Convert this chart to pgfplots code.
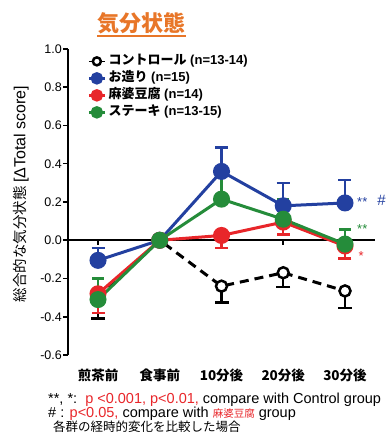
\documentclass[border=0pt]{standalone}
\usepackage{pgfplots}
\pgfplotsset{compat=1.18}
\usepackage{fontspec}
\setmainfont{Liberation Sans}
\newfontfamily\cjk{Noto Sans CJK JP}
\definecolor{cblue}{RGB}{35,64,160}
\definecolor{cred}{RGB}{232,38,42}
\definecolor{cgreen}{RGB}{37,140,58}
\definecolor{corange}{RGB}{232,118,40}
\begin{document}
\begin{tikzpicture}[x=1pt,y=1pt]
\useasboundingbox (0,0) rectangle (386,437);
% title
\node at (141,414) {\cjk\bfseries\fontsize{22}{22}\selectfont\color{corange}気分状態};
\draw[corange, line width=1.5pt] (97,401) -- (186,401);
% y label
\node[rotate=90] at (21,243) {\cjk\fontsize{14.5}{15}\selectfont 総合的な気分状態 {\normalfont\fontsize{16}{16}\selectfont [ΔTotal score]}};
\begin{axis}[
  at={(68pt,82pt)}, anchor=south west,
  scale only axis, width=307pt, height=306pt,
  xmin=-0.486, xmax=4.486, ymin=-0.6, ymax=1.0,
  clip=false,
  axis y line*=left, axis x line*=bottom,
  x axis line style={draw=none},
  y axis line style={line width=2.5pt},
  xtick={0,1,2,3,4},
  xticklabels={煎茶前,食事前,10分後,20分後,30分後},
  xtick style={draw=none},
  xticklabel style={font=\cjk\bfseries\fontsize{13.5}{14}\selectfont, yshift=-5pt},
  ytick={-0.6,-0.4,-0.2,0,0.2,0.4,0.6,0.8,1.0},
  ytick style={line width=1.5pt, black},
  tick align=outside, major tick length=5pt,
  yticklabel style={font=\fontsize{12.5}{13}\selectfont, inner sep=1pt},
  /pgf/number format/.cd, fixed, fixed zerofill, precision=1, assume math mode=true,
  /pgfplots/.cd,
  legend image code/.code={\draw[mark repeat=2,mark phase=2,#1] plot coordinates {(0pt,0pt) (8pt,0pt) (16pt,0pt)};},
  legend style={at={(axis cs:-0.22,0.99)}, anchor=north west, draw=none, fill=none,
    font=\fontsize{13}{15}\selectfont,
    nodes={text height=9pt, text depth=2.5pt, inner sep=2.5pt}, row sep=0.5pt},
  legend cell align=left,
]
% zero line
\draw[line width=2.5pt] (axis cs:-0.486,0) -- (axis cs:4.486,0);
\pgfplotsinvokeforeach{0,1,2,3,4}{\draw[line width=1.5pt] (axis cs:#1,0) -- ([yshift=-5pt]axis cs:#1,0);}

\addlegendimage{draw=none, mark=*, mark size=4pt, mark options={draw=black, line width=2.5pt, fill=white}}
\addlegendentry{{\cjk\bfseries コントロール} {\bfseries (n=13-14)}}
\addlegendimage{cblue, line width=2.5pt, mark=*, mark size=5pt}
\addlegendentry{{\cjk\bfseries お造り} {\bfseries (n=15)}}
\addlegendimage{cred, line width=2.5pt, mark=*, mark size=5pt}
\addlegendentry{{\cjk\bfseries 麻婆豆腐} {\bfseries (n=14)}}
\addlegendimage{cgreen, line width=2.5pt, mark=*, mark size=5pt}
\addlegendentry{{\cjk\bfseries ステーキ} {\bfseries (n=13-15)}}

% Control
\addplot[black, forget plot, only marks, mark=none,
  error bars/.cd, y dir=minus, y explicit,
  error bar style={line width=2.5pt, solid},
  error mark options={rotate=90, mark size=7pt, line width=2.5pt}]
  coordinates {(0,-0.30) +- (0,0.11) (2,-0.24) +- (0,0.085) (3,-0.17) +- (0,0.075) (4,-0.265) +- (0,0.09)};
\addplot[black, forget plot, line width=3pt, dash pattern=on 9pt off 6pt, mark=*, mark size=5.5pt,
  mark options={solid, fill=white, line width=2.5pt}]
  coordinates {(0,-0.30) (1,0) (2,-0.24) (3,-0.17) (4,-0.265)};

% Blue
\addplot[cblue, forget plot, only marks, mark=none,
  error bars/.cd, y dir=plus, y explicit,
  error bar style={line width=2.5pt, solid},
  error mark options={rotate=90, mark size=6.5pt, line width=2.5pt}]
  coordinates {(0,-0.105) +- (0,0.065) (2,0.36) +- (0,0.125) (3,0.18) +- (0,0.12) (4,0.195) +- (0,0.12)};
\addplot[cblue, forget plot, line width=3pt, mark=*, mark size=7pt]
  coordinates {(0,-0.105) (1,0) (2,0.36) (3,0.18) (4,0.195)};

% Red
\addplot[cred, forget plot, only marks, mark=none,
  error bars/.cd, y dir=minus, y explicit,
  error bar style={line width=2.5pt, solid},
  error mark options={rotate=90, mark size=6.5pt, line width=2.5pt}]
  coordinates {(0,-0.28) +- (0,0.10) (2,0.025) +- (0,0.065) (3,0.095) +- (0,0.065) (4,-0.03) +- (0,0.065)};
\addplot[cred, forget plot, line width=3pt, mark=*, mark size=7pt]
  coordinates {(0,-0.28) (1,0) (2,0.025) (3,0.095) (4,-0.03)};

% Green
\addplot[cgreen, forget plot, only marks, mark=none,
  error bars/.cd, y dir=plus, y explicit,
  error bar style={line width=2.5pt, solid},
  error mark options={rotate=90, mark size=6pt, line width=2.5pt}]
  coordinates {(0,-0.31) +- (0,0.11) (2,0.215) +- (0,0.13) (3,0.11) +- (0,0.105) (4,-0.02) +- (0,0.075)};
\addplot[cgreen, forget plot, line width=3pt, mark=*, mark size=7pt]
  coordinates {(0,-0.31) (1,0) (2,0.215) (3,0.11) (4,-0.02)};

% significance marks
\node[cblue, font=\fontsize{13}{13}\selectfont] at (axis cs:4.28,0.20) {**};
\node[cblue, font=\fontsize{15}{15}\selectfont, anchor=west, inner sep=0pt] at (axis cs:4.52,0.21) {\#};
\node[cgreen, font=\fontsize{13}{13}\selectfont] at (axis cs:4.28,0.06) {**};
\node[cred, font=\fontsize{13}{13}\selectfont] at (axis cs:4.26,-0.085) {*};
\end{axis}
% notes
\node[anchor=west, inner sep=0pt, font=\fontsize{14.5}{14.5}\selectfont] at (48,37) {**, *:\ \ {\color{cred}p <0.001, p<0.01,} compare with Control group};
\node[anchor=west, inner sep=0pt, font=\fontsize{14.5}{14.5}\selectfont] at (48,23) {\# : {\color{cred}p<0.05,} compare with {\color{cred}\cjk\fontsize{10.5}{11}\selectfont 麻婆豆腐} group};
\node[anchor=west, inner sep=0pt] at (53,10) {\cjk\fontsize{12.5}{13}\selectfont 各群の経時的変化を比較した場合};
\end{tikzpicture}
\end{document}
